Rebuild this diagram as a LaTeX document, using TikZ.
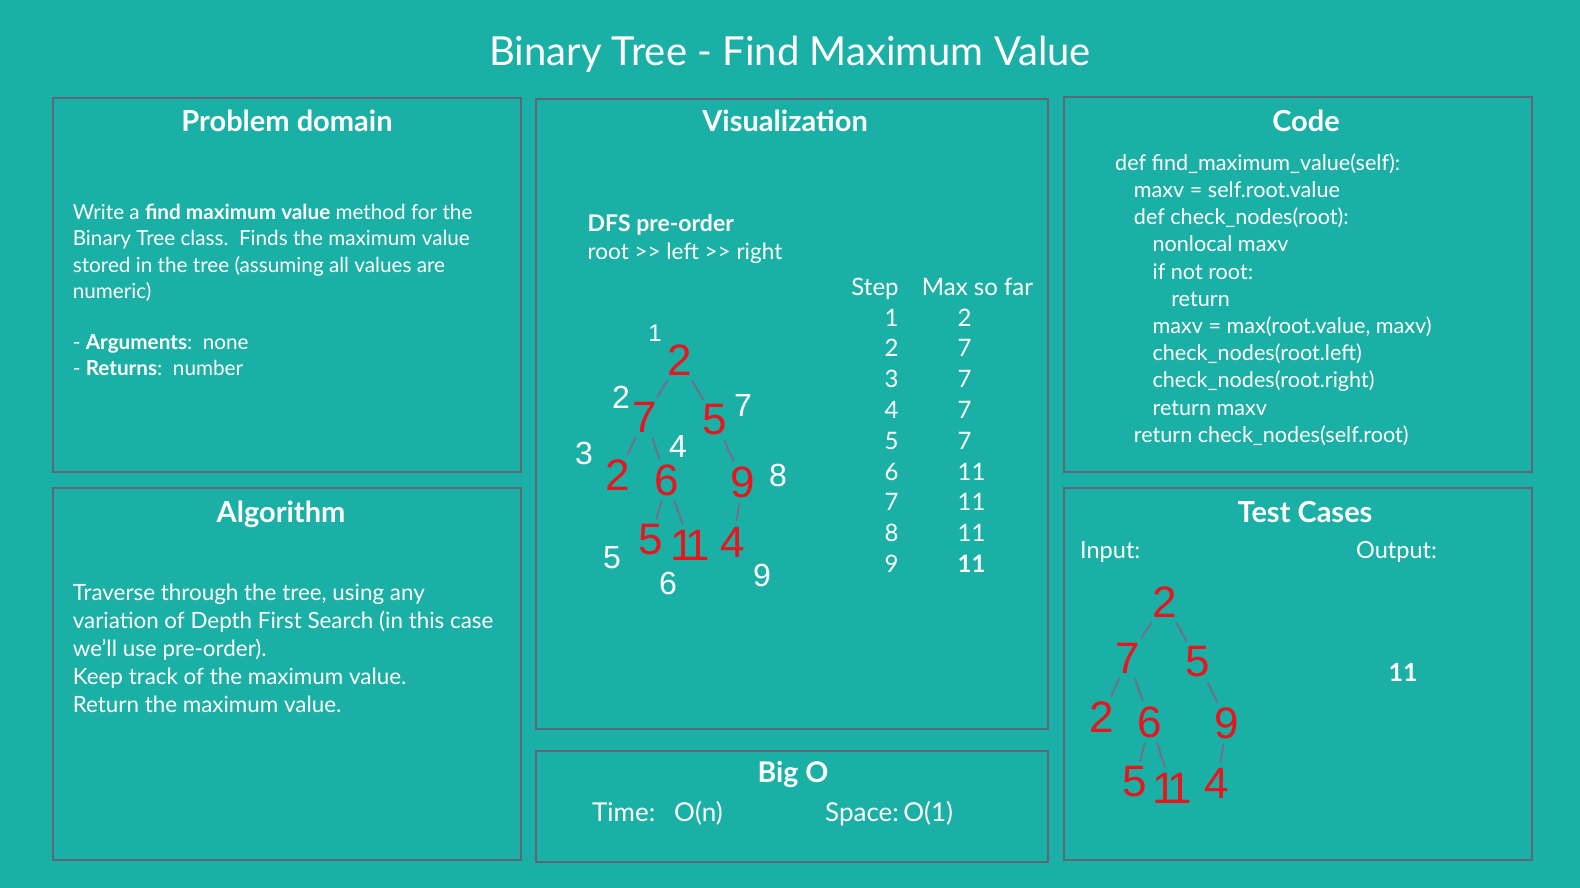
\documentclass[tikz,border=0pt]{standalone}
\usepackage{fontspec}
\setmainfont{Lato}
\newfontfamily\handfont{Liberation Sans}
\newcommand\setfs[1]{\fontsize{#1}{#1}\selectfont}
% hand-written eleven: two close strokes
\newcommand\eleven{1\kern-9pt 1}
\definecolor{bgteal}{HTML}{1BB0A6}
\definecolor{panelgray}{HTML}{5E6679}
\definecolor{handred}{HTML}{E8141E}
\definecolor{handgray}{HTML}{6E7189}
\tikzset{
  panel/.style={draw=panelgray, line width=2.4pt},
  title/.style={anchor=base, inner sep=0, text=white, font=\setfs{40}},
  head/.style={anchor=base, inner sep=0, text=white, font=\setfs{29}\bfseries},
  body/.style={anchor=base west, inner sep=0, text=white, font=\setfs{20.7}},
  codeline/.style={anchor=base west, inner sep=0, text=white, font=\setfs{21.6}},
  bigbody/.style={anchor=base west, inner sep=0, text=white, font=\setfs{22.4}},
  vistext/.style={anchor=base west, inner sep=0, text=white, font=\setfs{22.5}},
  cell/.style={anchor=base, inner sep=0, text=white, font=\setfs{24}},
  cellw/.style={anchor=base west, inner sep=0, text=white, font=\setfs{24}},
  bigo/.style={anchor=base west, inner sep=0, text=white, font=\setfs{26}},
  label/.style={anchor=base west, inner sep=0, text=white, font=\setfs{23.5}},
  val/.style={anchor=center, inner sep=0, text=handred, font=\handfont\setfs{44}},
  stepno/.style={anchor=center, inner sep=0, text=white, font=\handfont\setfs{32}},
  edge/.style={draw=handgray, line width=2pt, line cap=round, shorten <=6pt, shorten >=6pt},
}
\begin{document}
\begin{tikzpicture}[x=1pt,y=-1pt]
\useasboundingbox (0,0) rectangle (1580,888);
\fill[bgteal] (0,0) rectangle (1580,888);

% title
\node[title] (title) at (790,65.5) {Binary Tree - Find Maximum Value};

% panels
\draw[panel] (53,98) rectangle (521,472);
\draw[panel] (53,488) rectangle (521,860);
\draw[panel] (536,99) rectangle (1048,729);
\draw[panel] (536,751) rectangle (1048,862);
\draw[panel] (1064,97) rectangle (1532,472);
\draw[panel] (1064,488) rectangle (1532,860);

% headings
\node[head] (hprob) at (287,131.5) {Problem domain};
\node[head] (hvis) at (785,131.5) {Visualization};
\node[head] (hcode) at (1306,131.5) {Code};
\node[head] (halg) at (281,522.5) {Algorithm};
\node[head] (htest) at (1305,522.5) {Test Cases};
\node[head, font=\setfs{28.5}\bfseries] (hbigo) at (793,782.7) {Big O};

% problem domain
\node[body] (p1) at (72.6,219.6) {Write a \textbf{find maximum value} method for the};
\node[body] (p2) at (72.6,245.8) {Binary Tree class.\ \ Finds the maximum value};
\node[body] (p3) at (72.6,272.0) {stored in the tree (assuming all values are};
\node[body] (p4) at (72.6,298.2) {numeric)};
\node[body] (p5) at (72.6,349.6) {- \textbf{Arguments}:\ \ none};
\node[body] (p6) at (72.6,375.8) {- \textbf{Returns}:\ \ number};

% algorithm
\node[bigbody] (a1) at (72.6,600.5) {Traverse through the tree, using any};
\node[bigbody] (a2) at (72.6,628.2) {variation of Depth First Search (in this case};
\node[bigbody] (a3) at (72.6,656.0) {we'll use pre-order).};
\node[bigbody] (a4) at (72.6,684.0) {Keep track of the maximum value.};
\node[bigbody] (a5) at (72.6,712.0) {Return the maximum value.};

% code
\node[codeline] (c1) at (1115.0,170.2) {def find\_maximum\_value(self):};
\node[codeline] (c2) at (1133.7,197.4) {maxv = self.root.value};
\node[codeline] (c3) at (1133.7,224.6) {def check\_nodes(root):};
\node[codeline] (c4) at (1152.4,251.8) {nonlocal maxv};
\node[codeline] (c5) at (1152.4,279.0) {if not root:};
\node[codeline] (c6) at (1171.1,306.2) {return};
\node[codeline] (c7) at (1152.4,333.4) {maxv = max(root.value, maxv)};
\node[codeline] (c8) at (1152.4,360.6) {check\_nodes(root.left)};
\node[codeline] (c9) at (1152.4,387.8) {check\_nodes(root.right)};
\node[codeline] (c10) at (1152.4,415.0) {return maxv};
\node[codeline] (c11) at (1133.7,442.2) {return check\_nodes(self.root)};

% visualization text
\node[vistext, font=\setfs{23}\bfseries] (dfs) at (587.5,231) {DFS pre-order};
\node[vistext] (order) at (587.5,259.5) {root {>}{>} left {>}{>} right};

% step table
\node[cell] (tstep) at (875,295) {Step};
\node[cell] (tmax) at (977.5,295) {Max so far};
\foreach \s/\m [count=\i] in {1/2,2/7,3/7,4/7,5/7,6/11,7/11,8/11} {
  \node[cell] (st\i) at (891.5,{326+30.8*(\i-1)}) {\s};
  \node[cellw] (mx\i) at (957.5,{326+30.8*(\i-1)}) {\m};
}
\node[cell] (st9) at (891.5,572.4) {9};
\node[cellw, font=\setfs{24}\bfseries] (mx9) at (957.5,572.4) {11};

% visited tree: values
\node[val] (vr)  at (680,360) {2};
\node[val] (v7)  at (645,417) {7};
\node[val] (v5)  at (715,420) {5};
\node[val] (v2)  at (618,475) {2};
\node[val] (v6)  at (667,480) {6};
\node[val] (v9)  at (743,482) {9};
\node[val] (v5b) at (651,540) {5};
\node[val] (v11) at (690,545) {\eleven};
\node[val] (v4)  at (733,542) {4};
\draw[edge] (vr) -- (v7);
\draw[edge] (vr) -- (v5);
\draw[edge] (v7) -- (v2);
\draw[edge] (v7) -- (v6);
\draw[edge] (v5) -- (v9);
\draw[edge] (v6) -- (v5b);
\draw[edge] (v6) -- (v11);
\draw[edge] (v9) -- (v4);

% visit order
\node[stepno, font=\handfont\setfs{24}] (n1) at (655,333) {1};
\node[stepno] (n2) at (621,397) {2};
\node[stepno] (n3) at (584,453) {3};
\node[stepno] (n4) at (678,446) {4};
\node[stepno] (n5) at (612,558) {5};
\node[stepno] (n6) at (668,583) {6};
\node[stepno] (n7) at (743,405) {7};
\node[stepno] (n8) at (778,475) {8};
\node[stepno] (n9) at (762,575) {9};

% big O
\node[bigo] (time) at (592,821) {Time:};
\node[bigo] (timev) at (674,821) {O(n)};
\node[bigo] (space) at (825,821) {Space:\,O(1)};

% test cases
\node[label] (inp) at (1080,558) {Input:};
\node[label] (outp) at (1356,558) {Output:};
\node[anchor=base, inner sep=0, text=white, font=\setfs{25}\bfseries] (res) at (1403,681) {11};

\node[val] (tr)  at (1165,602) {2};
\node[val] (t7)  at (1128,658) {7};
\node[val] (t5)  at (1198,662) {5};
\node[val] (t2)  at (1102,717) {2};
\node[val] (t6)  at (1150,722) {6};
\node[val] (t9)  at (1227,723) {9};
\node[val] (t5b) at (1135,782) {5};
\node[val] (t11) at (1172,788) {\eleven};
\node[val] (t4)  at (1217,783) {4};
\draw[edge] (tr) -- (t7);
\draw[edge] (tr) -- (t5);
\draw[edge] (t7) -- (t2);
\draw[edge] (t7) -- (t6);
\draw[edge] (t5) -- (t9);
\draw[edge] (t6) -- (t5b);
\draw[edge] (t6) -- (t11);
\draw[edge] (t9) -- (t4);
\end{tikzpicture}
\end{document}
